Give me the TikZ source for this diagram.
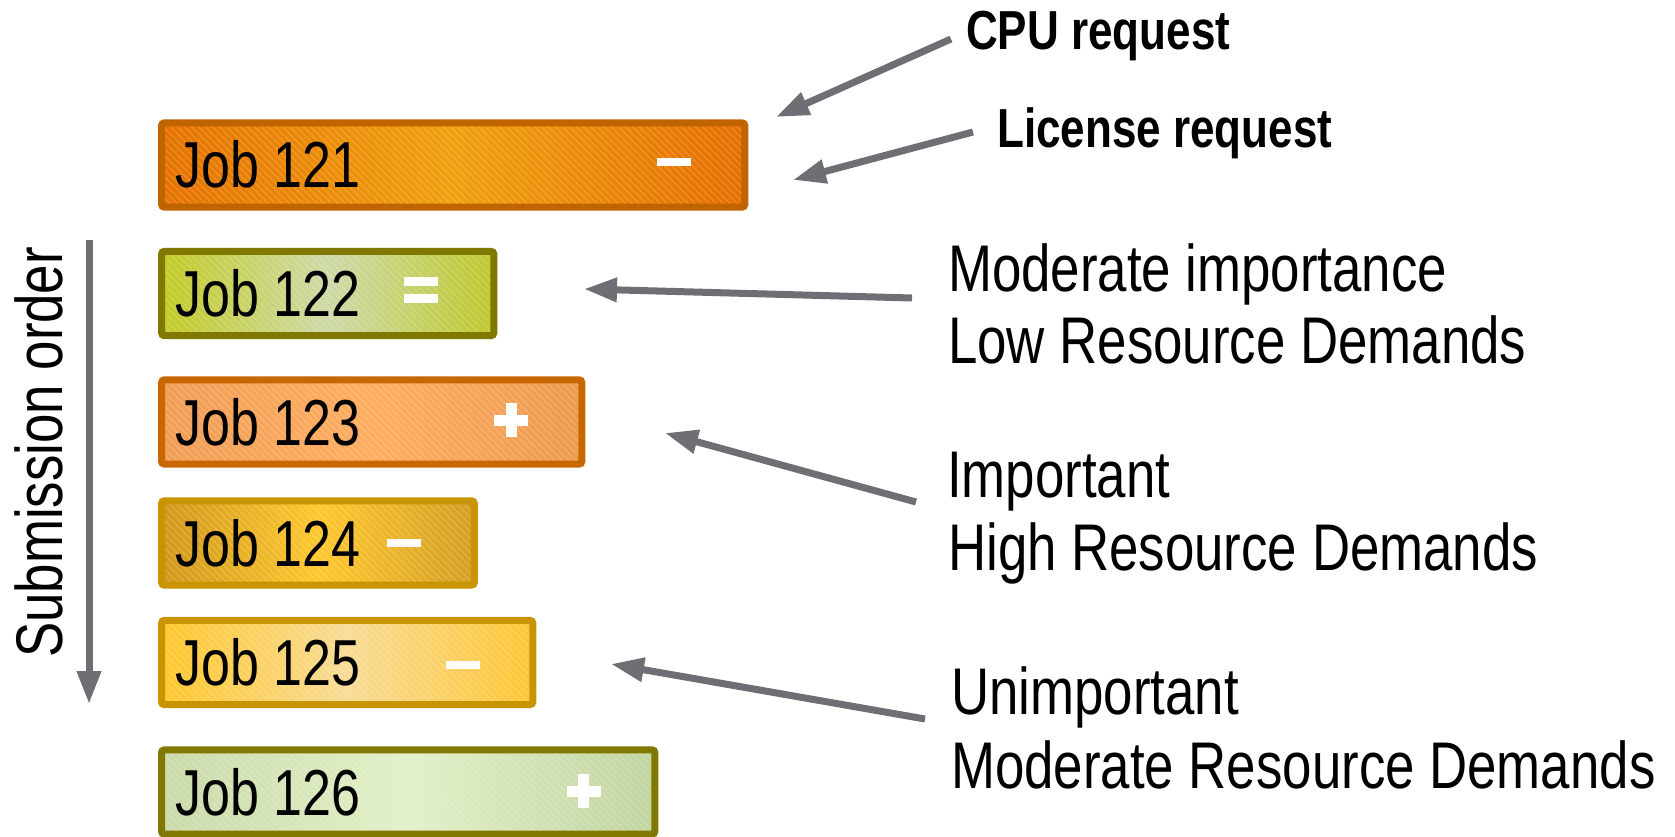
\documentclass[tikz,border=0pt]{standalone}
\usepackage{fontspec}
\setmainfont{Liberation Sans}[FakeStretch=0.8]
\usetikzlibrary{arrows.meta,calc}
\definecolor{arrowgray}{RGB}{110,111,116}
\definecolor{bOrange}{RGB}{192,100,0}
\definecolor{bOlive}{RGB}{128,120,0}
\definecolor{bOrangeL}{RGB}{200,102,0}
\definecolor{bGold}{RGB}{200,148,0}
\tikzset{
  jobbox/.style={rounded corners=3pt, minimum height=84pt,
    inner sep=0pt, anchor=west},
  jobframe/.style={draw=#1, line width=7pt, rounded corners=3pt},
  stripe/.style={white, line width=0.8pt, opacity=0.22},
  jobtext/.style={anchor=base west, inner sep=0pt, font=\fontsize{65}{72}\selectfont},
  lab/.style={anchor=base west, inner sep=0pt, font=\fontsize{66}{72}\selectfont},
  blab/.style={anchor=base west, inner sep=0pt, font=\fontsize{55}{60}\selectfont\bfseries},
  ptr/.style={draw=arrowgray, line width=7pt, -{Triangle[length=33pt,width=23pt]}},
  sym/.style={fill=white},
}
\newcommand{\jobstripes}[2]{%
  \begin{scope}
    \clip (#1.north west) rectangle (#1.south east);
    \foreach \i in {-100,-93,...,#2}
      \draw[stripe] ($(#1.north west)+(\i,0)$) -- ++(100,100);
  \end{scope}
  \draw[jobframe=#1col] (#1.north west) rectangle (#1.south east);
}
\colorlet{b121col}{bOrange}
\colorlet{b122col}{bOlive}
\colorlet{b123col}{bOrangeL}
\colorlet{b124col}{bGold}
\colorlet{b125col}{bGold}
\colorlet{b126col}{bOlive}
\begin{document}
\begin{tikzpicture}[x=1pt,y=-1pt]
\useasboundingbox (0,0) rectangle (1675,837);
\fill[white] (0,0) rectangle (1675,837);

% job bars
\node[jobbox, minimum width=583pt,
  left color={rgb,255:red,230;green,114;blue,0}, right color={rgb,255:red,230;green,110;blue,0},
  middle color={rgb,255:red,240;green,160;blue,14}] (b121) at (161.5,165) {};
\node[jobbox, minimum width=332pt,
  left color={rgb,255:red,194;green,202;blue,36}, right color={rgb,255:red,190;green,200;blue,44},
  middle color={rgb,255:red,206;green,218;blue,168}] (b122) at (161.5,293.5) {};
\node[jobbox, minimum width=420pt,
  left color={rgb,255:red,240;green,158;blue,86}, right color={rgb,255:red,236;green,154;blue,80},
  middle color={rgb,255:red,255;green,174;blue,96}] (b123) at (161.5,422) {};
\node[jobbox, minimum width=312.5pt,
  left color={rgb,255:red,208;green,152;blue,26}, right color={rgb,255:red,212;green,158;blue,36},
  middle color={rgb,255:red,255;green,200;blue,46}] (b124) at (161.5,543) {};
\node[jobbox, minimum width=371pt,
  left color={rgb,255:red,255;green,198;blue,44}, right color={rgb,255:red,255;green,198;blue,52},
  middle color={rgb,255:red,248;green,220;blue,150}] (b125) at (161.5,662.5) {};
\node[jobbox, minimum width=493pt,
  left color={rgb,255:red,202;green,218;blue,168}, right color={rgb,255:red,194;green,212;blue,160},
  middle color={rgb,255:red,226;green,240;blue,200}] (b126) at (161.5,792) {};

\jobstripes{b121}{590}
\jobstripes{b122}{340}
\jobstripes{b123}{430}
\jobstripes{b124}{320}
\jobstripes{b125}{380}
\jobstripes{b126}{500}

% job texts
\node[jobtext] (t121) at (175,188) {Job 121};
\node[jobtext] (t122) at (175,316.5) {Job 122};
\node[jobtext] (t123) at (175,445) {Job 123};
\node[jobtext] (t124) at (175,566) {Job 124};
\node[jobtext] (t125) at (175,685.5) {Job 125};
\node[jobtext] (t126) at (175,815) {Job 126};

% symbols
\fill[sym] (656.5,158) rectangle (690.5,166);           % minus 121
\fill[sym] (404,277) rectangle (438,286);               % equals 122
\fill[sym] (404,294) rectangle (438,303);
\fill[sym] (494,414.5) rectangle (528,425.5);           % plus 123
\fill[sym] (505.5,403) rectangle (516.5,437);
\fill[sym] (386.5,539) rectangle (420.5,547);           % minus 124
\fill[sym] (446,661) rectangle (480,669);               % minus 125
\fill[sym] (566.5,785.5) rectangle (600.5,796.5);       % plus 126
\fill[sym] (578,774) rectangle (589,808);

% submission order
\node[lab, rotate=90] (sub) at (62,658) {Submission order};
\coordinate (subA) at (89,240);
\coordinate (subB) at (89,704);
\draw[ptr] (subA) -- (subB);

% labels
\node[blab] (cpu) at (966,50) {CPU request};
\node[blab] (lic) at (997,148) {License request};
\node[lab] (modA) at (948,291) {Moderate importance};
\node[lab] (modB) at (948,363) {Low Resource Demands};
\node[lab] (impA) at (947,497) {Important};
\node[lab] (impB) at (948,570) {High Resource Demands};
\node[lab] (unA) at (951,714) {Unimportant};
\node[lab] (unB) at (951,788) {Moderate Resource Demands};

% arrows
\coordinate (cpuT) at (951,39);   \coordinate (cpuH) at (776,117);
\coordinate (licT) at (973,132);  \coordinate (licH) at (793,180);
\coordinate (modT) at (912,298);  \coordinate (modH) at (584,289);
\coordinate (impT) at (916,502);  \coordinate (impH) at (665,433);
\coordinate (unT) at (925,719);   \coordinate (unH) at (611,664);
\draw[ptr] (cpuT) -- (cpuH);
\draw[ptr] (licT) -- (licH);
\draw[ptr] (modT) -- (modH);
\draw[ptr] (impT) -- (impH);
\draw[ptr] (unT) -- (unH);
\end{tikzpicture}
\end{document}
